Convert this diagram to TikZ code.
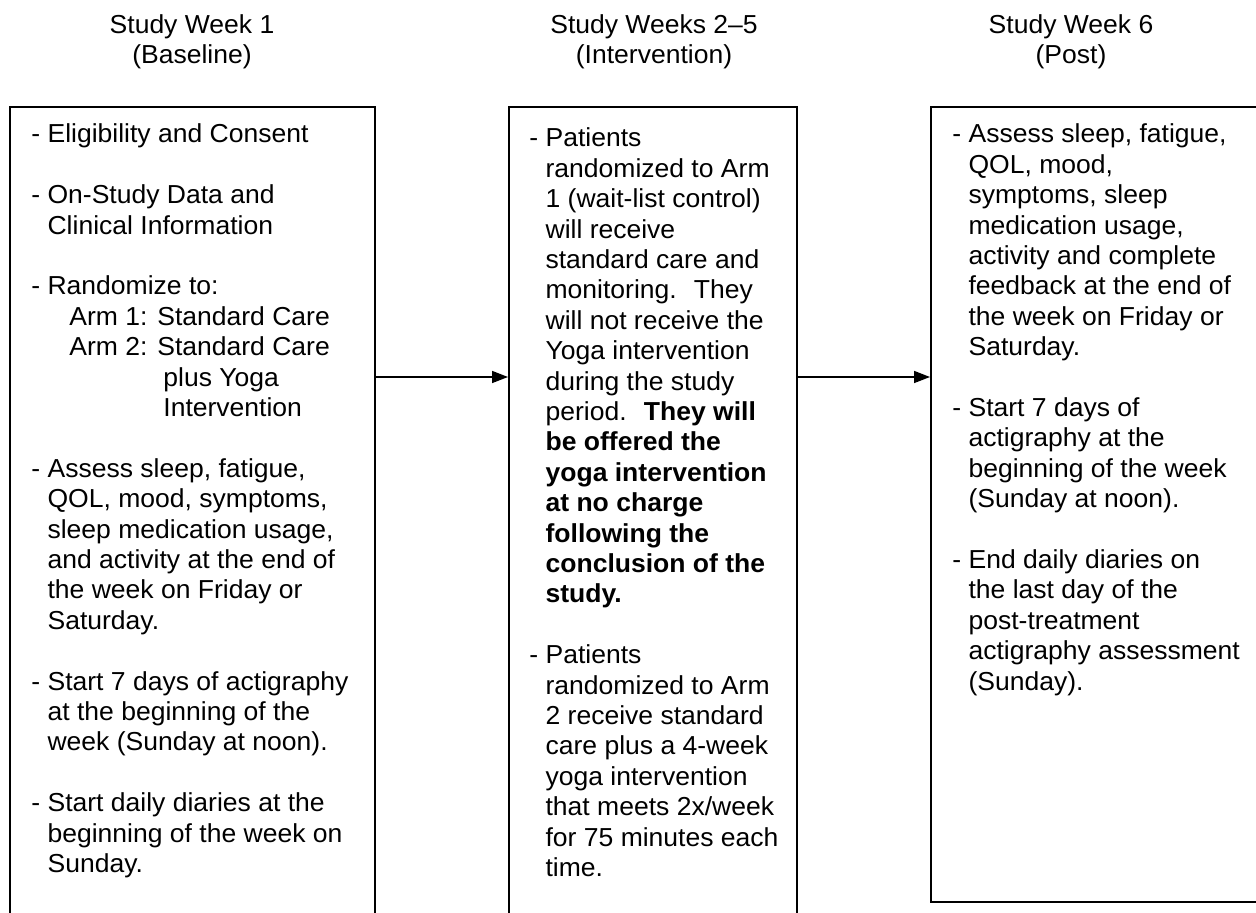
\documentclass[tikz,border=0pt]{standalone}
\usepackage{fontspec}
\setmainfont{Liberation Sans}[FakeStretch=1.02]
\usetikzlibrary{arrows.meta,fit}
\newcommand\ind{\phantom{- }}
\newlength\bs
\begin{document}
\begin{tikzpicture}[x=0.5pt,y=-0.5pt,
  box/.style={draw, line width=1pt, inner sep=0pt},
  hdr/.style={align=center, inner sep=0pt, font=\fontsize{13}{15.2}\selectfont},
  txt/.style={anchor=base west, inner sep=0pt},
  arr/.style={line width=0.8pt, -{Triangle[length=8pt,width=6pt]}}]
\useasboundingbox (0,0) rectangle (1256,913);
\clip (0,0) rectangle (1256,913);
\fontsize{13}{15.2}\selectfont
\setlength\bs{15.2pt}
% headers
\node[hdr] (h1) at (192,42) {Study Week 1\\(Baseline)};
\node[hdr] (h2) at (654,42) {Study Weeks 2–5\\(Intervention)};
\node[hdr] (h3) at (1071,42) {Study Week 6\\(Post)};
% boxes
\node[box, fit={(10,107) (375,940)}] (b1) {};
\node[box, fit={(509,107) (797,940)}] (b2) {};
\node[box, fit={(931,107) (1275,902)}] (b3) {};
% texts
\node[txt] (t1) at (31,143) {\begin{minipage}[t]{200pt}\raggedright
\fontsize{13}{15.2}\selectfont
- Eligibility and Consent\\[\bs]
- On-Study Data and\\
\ind Clinical Information\\[\bs]
- Randomize to:\\
\hspace*{19pt}Arm 1: Standard Care\\
\hspace*{19pt}Arm 2: Standard Care\\
\hspace*{66pt}plus Yoga\\
\hspace*{66pt}Intervention\\[\bs]
- Assess sleep, fatigue,\\
\ind QOL, mood, symptoms,\\
\ind sleep medication usage,\\
\ind and activity at the end of\\
\ind the week on Friday or\\
\ind Saturday.\\[\bs]
- Start 7 days of actigraphy\\
\ind at the beginning of the\\
\ind week (Sunday at noon).\\[\bs]
- Start daily diaries at the\\
\ind beginning of the week on\\
\ind Sunday.
\end{minipage}};
\node[txt] (t2) at (529,147) {\begin{minipage}[t]{200pt}\raggedright
\fontsize{13}{15.2}\selectfont
- Patients\\
\ind randomized to Arm\\
\ind 1 (wait-list control)\\
\ind will receive\\
\ind standard care and\\
\ind monitoring.~ They\\
\ind will not receive the\\
\ind Yoga intervention\\
\ind during the study\\
\ind period.~ \textbf{They will}\\
\ind \textbf{be offered the}\\
\ind \textbf{yoga intervention}\\
\ind \textbf{at no charge}\\
\ind \textbf{following the}\\
\ind \textbf{conclusion of the}\\
\ind \textbf{study.}\\[\bs]
- Patients\\
\ind randomized to Arm\\
\ind 2 receive standard\\
\ind care plus a 4-week\\
\ind yoga intervention\\
\ind that meets 2x/week\\
\ind for 75 minutes each\\
\ind time.
\end{minipage}};
\node[txt] (t3) at (952,143) {\begin{minipage}[t]{200pt}\raggedright
\fontsize{13}{15.2}\selectfont
- Assess sleep, fatigue,\\
\ind QOL, mood,\\
\ind symptoms, sleep\\
\ind medication usage,\\
\ind activity and complete\\
\ind feedback at the end of\\
\ind the week on Friday or\\
\ind Saturday.\\[\bs]
- Start 7 days of\\
\ind actigraphy at the\\
\ind beginning of the week\\
\ind (Sunday at noon).\\[\bs]
- End daily diaries on\\
\ind the last day of the\\
\ind post-treatment\\
\ind actigraphy assessment\\
\ind (Sunday).
\end{minipage}};
% arrows
\coordinate (ay) at (0,377);
\draw[arr] (b1.east |- ay) -- (b2.west |- ay);
\draw[arr] (b2.east |- ay) -- (b3.west |- ay);
\end{tikzpicture}
\end{document}
